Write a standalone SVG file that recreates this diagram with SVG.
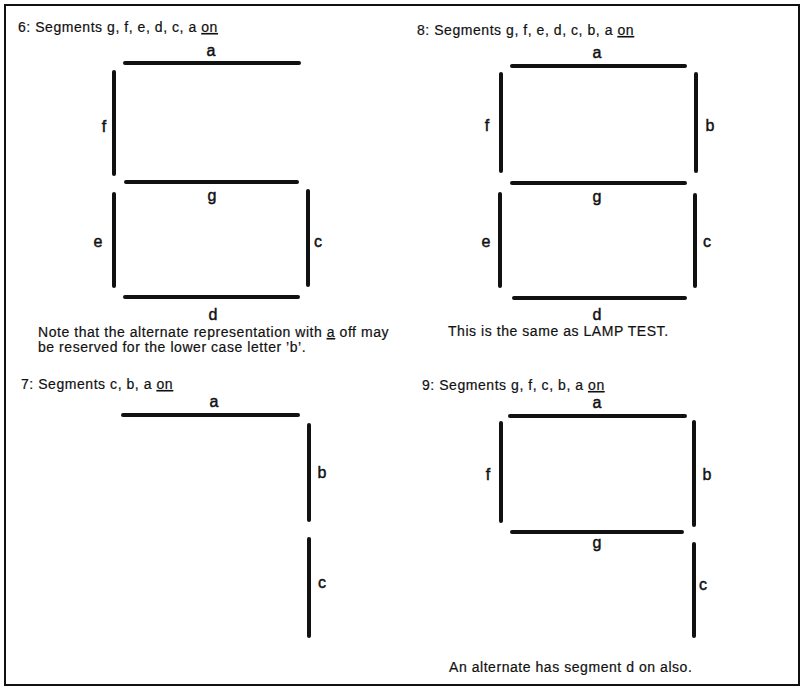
<svg xmlns="http://www.w3.org/2000/svg" width="806" height="689" viewBox="0 0 806 689">
<style>
.seg{stroke:#111;stroke-width:4;stroke-linecap:round;fill:none}
.t{font-family:"Liberation Sans",Arial,sans-serif;font-size:14px;letter-spacing:0.55px;fill:#111;stroke:#111;stroke-width:0.2}
.lbl{font-family:"Liberation Sans",Arial,sans-serif;font-size:16px;fill:#111;stroke:#111;stroke-width:0.45;text-anchor:middle}
.u{text-decoration:underline}
.frame{fill:none;stroke:#111;stroke-width:2}
</style>
<rect width="806" height="689" fill="#fff"/>
<rect class="frame" x="5" y="5" width="794" height="680"/>

<g id="digit6">
  <text class="t" x="18" y="32">6: Segments g, f, e, d, c, a <tspan class="u">on</tspan></text>
  <g id="d6-a"><line class="seg" x1="125" y1="63" x2="299" y2="63"/><text class="lbl" x="211" y="56">a</text></g>
  <g id="d6-f"><line class="seg" x1="114" y1="72" x2="114" y2="174"/><text class="lbl" x="104" y="132">f</text></g>
  <g id="d6-g"><line class="seg" x1="126" y1="182" x2="297" y2="182"/><text class="lbl" x="212" y="201">g</text></g>
  <g id="d6-e"><line class="seg" x1="114" y1="194" x2="114" y2="286"/><text class="lbl" x="98" y="247">e</text></g>
  <g id="d6-c"><line class="seg" x1="308" y1="191" x2="308" y2="285"/><text class="lbl" x="318" y="247">c</text></g>
  <g id="d6-d"><line class="seg" x1="125" y1="297" x2="298" y2="297"/><text class="lbl" x="213" y="320">d</text></g>
  <text class="t" x="38" y="337">Note that the alternate representation with <tspan class="u">a</tspan> off may</text>
  <text class="t" x="38" y="352">be reserved for the lower case letter ’b’.</text>
</g>

<g id="digit8">
  <text class="t" x="417" y="35">8: Segments g, f, e, d, c, b, a <tspan class="u">on</tspan></text>
  <g id="d8-a"><line class="seg" x1="512" y1="66" x2="685" y2="66"/><text class="lbl" x="597" y="58">a</text></g>
  <g id="d8-f"><line class="seg" x1="501" y1="74" x2="501" y2="171"/><text class="lbl" x="487" y="131">f</text></g>
  <g id="d8-b"><line class="seg" x1="696" y1="74" x2="696" y2="171"/><text class="lbl" x="710" y="131">b</text></g>
  <g id="d8-g"><line class="seg" x1="512" y1="183" x2="685" y2="183"/><text class="lbl" x="597" y="202">g</text></g>
  <g id="d8-e"><line class="seg" x1="500" y1="194" x2="500" y2="286"/><text class="lbl" x="486" y="247">e</text></g>
  <g id="d8-c"><line class="seg" x1="695" y1="195" x2="695" y2="286"/><text class="lbl" x="707" y="247">c</text></g>
  <g id="d8-d"><line class="seg" x1="514" y1="298" x2="685" y2="298"/><text class="lbl" x="597" y="320">d</text></g>
  <text class="t" x="448" y="336">This is the same as LAMP TEST.</text>
</g>

<g id="digit7">
  <text class="t" x="21" y="389">7: Segments c, b, a <tspan class="u">on</tspan></text>
  <g id="d7-a"><line class="seg" x1="123" y1="415" x2="298" y2="415"/><text class="lbl" x="214" y="407">a</text></g>
  <g id="d7-b"><line class="seg" x1="309" y1="425" x2="309" y2="520"/><text class="lbl" x="322" y="478">b</text></g>
  <g id="d7-c"><line class="seg" x1="309" y1="539" x2="309" y2="636"/><text class="lbl" x="322" y="588">c</text></g>
</g>

<g id="digit9">
  <text class="t" x="422" y="390">9: Segments g, f, c, b, a <tspan class="u">on</tspan></text>
  <g id="d9-a"><line class="seg" x1="510" y1="416" x2="685" y2="416"/><text class="lbl" x="597" y="408">a</text></g>
  <g id="d9-f"><line class="seg" x1="501" y1="423" x2="501" y2="521"/><text class="lbl" x="488" y="480">f</text></g>
  <g id="d9-b"><line class="seg" x1="694" y1="422" x2="694" y2="525"/><text class="lbl" x="707" y="480">b</text></g>
  <g id="d9-g"><line class="seg" x1="512" y1="532" x2="682" y2="532"/><text class="lbl" x="597" y="548">g</text></g>
  <g id="d9-c"><line class="seg" x1="694" y1="544" x2="694" y2="636"/><text class="lbl" x="703" y="590">c</text></g>
  <text class="t" x="449" y="672">An alternate has segment d on also.</text>
</g>
<g id="connectors"/>
</svg>
